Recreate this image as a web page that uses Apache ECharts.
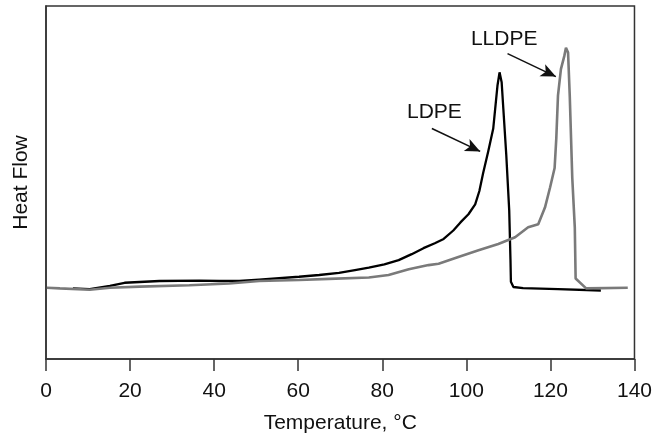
<!DOCTYPE html>
<html lang="en">
<head>
    <meta charset="UTF-8">
    <title>DSC LDPE / LLDPE</title>
    <script src="https://cdn.jsdelivr.net/npm/echarts@6/dist/echarts.min.js"></script>
    <style>
        html, body { margin: 0; padding: 0; background: #fff; }
    </style>
</head>
<body>
    <div id="main" style="width: 655px;height:439px;"></div>

    <script>
        // x axis ticks
        let xTicks = [0, 20, 40, 60, 80, 100, 120, 140];

        // LDPE curve (black): temperature / heat flow (arbitrary units 0-100)
        let ldpeTemp = [6.4, 10.4, 15.2, 18.7, 27.0, 36.5, 41.2, 46.0, 50.7, 60.2, 65.0, 69.7, 73.5, 76.8, 80.5, 83.9, 87.0, 89.8,
            92.5, 94.6, 96.9, 98.6, 100.5, 102.1, 103.1, 104.0, 105.2, 106.4, 107.4, 107.9, 108.4, 108.8, 109.5,
            110.2, 110.5, 110.6, 111.2, 113.5, 121.8, 132.0];
        let ldpeFlow = [20.0, 19.8, 20.7, 21.6, 22.1, 22.2, 22.1, 22.1, 22.5, 23.3, 23.8, 24.4, 25.2, 25.9, 26.8, 28.0, 29.7, 31.4,
            32.8, 34.0, 36.4, 38.7, 41.0, 43.8, 47.6, 52.7, 58.8, 65.3, 77.4, 81.2, 78.4, 70.9, 57.8,
            42.1, 28.1, 21.9, 20.4, 20.1, 19.8, 19.4];

        // LLDPE curve (grey)
        let lldpeTemp = [0.2, 3.3, 10.4, 15.2, 22.3, 34.1, 43.6, 50.7, 60.2, 67.3, 76.8, 81.5, 86.3, 91.0,
            93.4, 98.1, 102.9, 107.6, 111.6, 114.7, 117.1, 118.7, 119.9, 121.0, 121.4, 121.8, 122.5,
            123.3, 123.7, 124.2, 124.6, 125.2, 125.8, 126.0, 128.5, 138.4];
        let lldpeFlow = [20.2, 20.0, 19.6, 20.2, 20.5, 20.9, 21.4, 22.1, 22.4, 22.7, 23.1, 23.8, 25.4, 26.6,
            27.0, 28.9, 30.8, 32.6, 34.5, 37.3, 38.2, 42.9, 48.5, 54.1, 62.5, 74.6, 82.1,
            85.8, 88.2, 86.8, 74.6, 51.3, 37.3, 22.8, 20.0, 20.2];

        // annotations: label position and arrow start/end (data coords)
        let ldpeLabel = [92.4, 69.8];
        let ldpeArrow = [[91.8, 65.3], [103.3, 58.8]];
        let lldpeLabel = [109.0, 90.5];
        let lldpeArrow = [[109.8, 86.5], [121.3, 80.0]];

        function pairs(xs, ys) {
            let out = [];
            for (let i = 0; i < xs.length; i++) {
                out.push([xs[i], ys[i]]);
            }
            return out;
        }

        var font = '"Liberation Sans", Arial, Helvetica, sans-serif';
        var myChart = echarts.init(document.getElementById('main'));

        function annot(label, arrow, text) {
            return {
                markPoint: {
                    silent: true,
                    symbol: 'circle',
                    symbolSize: 0,
                    data: [{ coord: label }],
                    label: {
                        show: true,
                        position: 'inside',
                        formatter: text,
                        fontFamily: font,
                        fontSize: 21,
                        color: '#111'
                    }
                },
                markLine: {
                    silent: true,
                    symbol: ['none', 'arrow'],
                    symbolSize: [10, 15],
                    lineStyle: { color: '#111', width: 1.5, type: 'solid' },
                    label: { show: false },
                    data: [[{ coord: arrow[0] }, { coord: arrow[1] }]]
                }
            };
        }

        var option = {
            animation: false,
            grid: {
                left: 46,
                right: 18,
                top: 6,
                bottom: 75,
                show: true,
                borderColor: '#333',
                borderWidth: 1.5
            },
            xAxis: {
                type: 'value',
                min: xTicks[0],
                max: xTicks[xTicks.length - 1],
                interval: 20,
                name: 'Temperature, °C',
                nameLocation: 'middle',
                nameGap: 54,
                nameTextStyle: { fontFamily: font, fontSize: 21, color: '#111' },
                axisLine: { lineStyle: { color: '#333', width: 1.5 } },
                axisTick: { show: true, inside: false, length: 12, lineStyle: { color: '#333', width: 1.5 } },
                axisLabel: { fontFamily: font, fontSize: 21, color: '#111', margin: 22 },
                splitLine: { show: false }
            },
            yAxis: {
                type: 'value',
                min: 0,
                max: 100,
                name: 'Heat Flow',
                nameLocation: 'middle',
                nameGap: 14,
                nameTextStyle: { fontFamily: font, fontSize: 21, color: '#111' },
                axisLine: { show: true, lineStyle: { color: '#333', width: 1.5 } },
                axisTick: { show: false },
                axisLabel: { show: false },
                splitLine: { show: false }
            },
            series: [
                Object.assign({
                    name: 'LDPE',
                    type: 'line',
                    symbol: 'none',
                    smooth: false,
                    lineStyle: { color: '#000', width: 2.3 },
                    data: pairs(ldpeTemp, ldpeFlow)
                }, annot(ldpeLabel, ldpeArrow, 'LDPE')),
                Object.assign({
                    name: 'LLDPE',
                    type: 'line',
                    symbol: 'none',
                    smooth: false,
                    lineStyle: { color: '#7a7a7a', width: 2.6 },
                    data: pairs(lldpeTemp, lldpeFlow)
                }, annot(lldpeLabel, lldpeArrow, 'LLDPE'))
            ]
        };

        myChart.setOption(option);
    </script>
</body>
</html>
